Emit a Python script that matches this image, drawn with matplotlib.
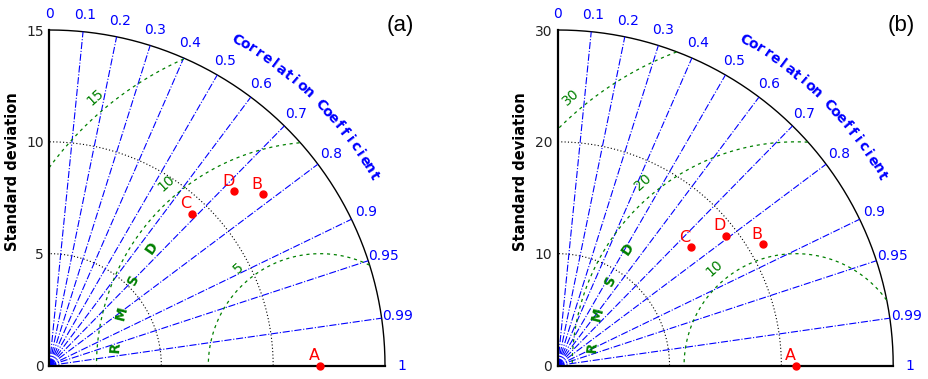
import numpy as np
import matplotlib
matplotlib.use("Agg")
import matplotlib.pyplot as plt

# model points A-D (A sits on the reference std)
point_names = ["A", "B", "C", "D"]

std_a = [12.1, 12.25, 9.3, 11.35]
corr_a = [1.0, 0.78, 0.684, 0.728]
ref_a = 12.1
smax_a = 15
yticks_a = [0, 5, 10, 15]
std_grid_a = [5, 10]
rms_levels_a = [5, 10, 15]

std_b = [21.3, 21.3, 15.9, 18.97]
corr_b = [1.0, 0.861, 0.748, 0.792]
ref_b = 21.3
smax_b = 30
yticks_b = [0, 10, 20, 30]
std_grid_b = [10, 20]
rms_levels_b = [10, 20, 30]

corr_ticks = [0, 0.1, 0.2, 0.3, 0.4, 0.5, 0.6, 0.7, 0.8, 0.9, 0.95, 0.99, 1]

W, H = 929, 379
fig = plt.figure(figsize=(W / 100, H / 100), dpi=100)


def taylor(left_px, width_px, ox, oy, smax, ref, stds, corrs, yticks, std_grid,
           rms_levels, rmsd_r, panel, panel_x):
    ax = fig.add_axes([left_px / W, 0, width_px / W, 1])
    s = (oy - 30) / smax  # pixels per unit
    ax.set_xlim((left_px - ox) / s, (left_px + width_px - ox) / s)
    ax.set_ylim(-(H - oy) / s, oy / s)
    ax.set_facecolor("none")

    for side in ["top", "right"]:
        ax.spines[side].set_visible(False)
    for side in ["left", "bottom"]:
        ax.spines[side].set_position(("data", 0))
        ax.spines[side].set_bounds(0, smax)
        ax.spines[side].set_linewidth(1.6)
    ax.set_xticks([])
    ax.set_yticks(yticks)
    ax.tick_params(axis="y", length=0, pad=4, labelsize=10, labelcolor="#222222")
    ax.set_ylabel("Standard deviation", fontsize=10.5, fontweight="bold")
    ax.yaxis.set_label_coords((ox - 29.5 - left_px) / width_px, 1 - 171.5 / H)

    th = np.linspace(0, np.pi / 2, 400)
    # outer arc
    ax.plot(smax * np.cos(th), smax * np.sin(th), color="black", lw=1.0)
    # std grid
    for r in std_grid:
        ax.plot(r * np.cos(th), r * np.sin(th), color="black", lw=0.8,
                linestyle=(0, (1, 2)))
    # correlation lines and labels
    for c in corr_ticks:
        a = np.arccos(c)
        if 0 < c < 1:
            ax.plot([0, smax * np.cos(a)], [0, smax * np.sin(a)], color="blue",
                    lw=0.8, linestyle="-.")
        rl = smax * 1.049
        ax.text(rl * np.cos(a), rl * np.sin(a), "%g" % c, color="blue",
                fontsize=10, ha="center", va="center")
    # curved axis title
    title = "Correlation Coefficient"
    for ch, ang in zip(title, np.linspace(60.1, 30.3, len(title))):
        a = np.radians(ang)
        ax.text(1.12 * smax * np.cos(a), 1.12 * smax * np.sin(a), ch,
                color="blue", fontsize=10, fontweight="bold", rotation=ang - 90,
                ha="center", va="center", rotation_mode="anchor")

    # RMSD contours around the reference
    tt = np.linspace(0, np.pi, 800)
    for r in rms_levels:
        x = ref + r * np.cos(tt)
        y = r * np.sin(tt)
        bad = (x < 0) | (x ** 2 + y ** 2 > smax ** 2)
        x[bad] = np.nan
        y[bad] = np.nan
        ax.plot(x, y, color="green", lw=0.9, linestyle=(0, (2.5, 3)))
        a = np.radians(130)
        rl = r + 15 / s
        ax.text(ref + rl * np.cos(a), rl * np.sin(a), str(r), color="green",
                fontsize=10, rotation=42, ha="center", va="center")
    for ch, ang in zip("RMSD", [175, 165.4, 155.4, 145.2]):
        a = np.radians(ang)
        ax.text(ref + rmsd_r * np.cos(a), rmsd_r * np.sin(a), ch, color="green",
                fontsize=10, fontweight="bold", rotation=ang - 90,
                ha="center", va="center", rotation_mode="anchor")

    # points
    for name, sd, c in zip(point_names, stds, corrs):
        a = np.arccos(c)
        px, py = sd * np.cos(a), sd * np.sin(a)
        ax.plot(px, py, "o", color="red", ms=5, clip_on=False, zorder=5)
        ax.annotate(name, (px, py), xytext=(-6, 10), textcoords="offset pixels",
                    color="red", fontsize=11.5, ha="center", va="center")

    ax.text((panel_x - left_px) / width_px, 1 - 25 / H, panel,
            transform=ax.transAxes, fontsize=16, family="Liberation Sans",
            ha="center", va="center")
    return ax


taylor(0, 464, 49.5, 365.5, smax_a, ref_a, std_a, corr_a, yticks_a, std_grid_a,
       rms_levels_a, 9.18, "(a)", 400)
taylor(465, 464, 557.7, 365.5, smax_b, ref_b, std_b, corr_b, yticks_b,
       std_grid_b, rms_levels_b, 18.28, "(b)", 901)

fig.savefig("out.png", dpi=100)
